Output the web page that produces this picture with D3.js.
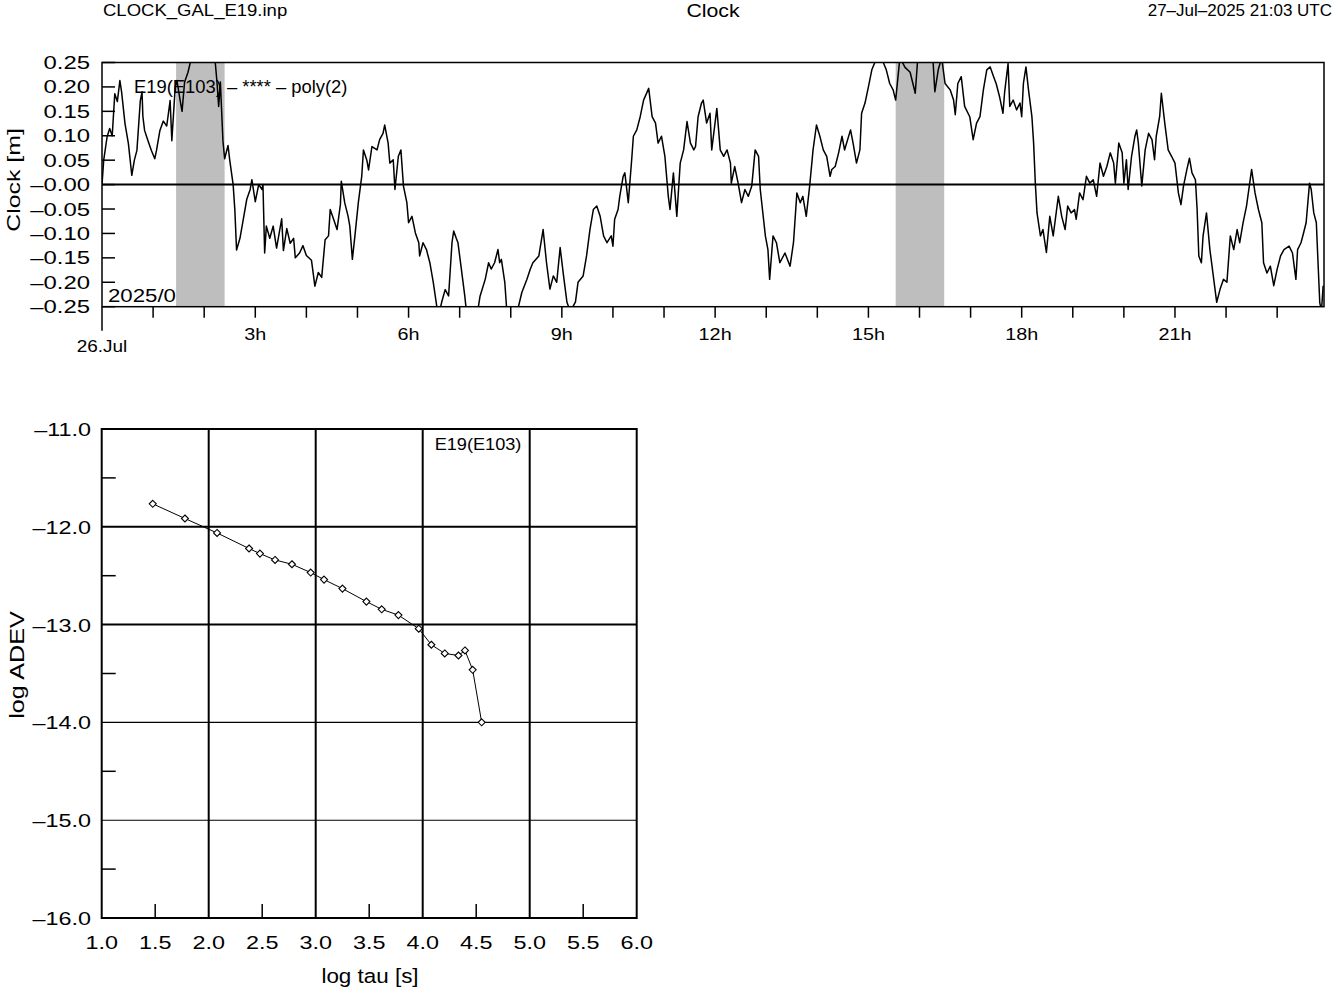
<!DOCTYPE html>
<html><head><meta charset="utf-8">
<script src="https://cdn.jsdelivr.net/npm/d3@7"></script>
<style>body{margin:0;background:#fff}svg{display:block}text{font-family:"Liberation Sans",Arial,sans-serif;fill:#000}</style>
</head><body>
<script>
// ---------- data ----------
const headerLeft = "CLOCK_GAL_E19.inp";
const headerTitle = "Clock";
const headerRight = "27\u2013Jul\u20132025 21:03 UTC";
const clockLegend = "E19(E103) \u2013 **** \u2013 poly(2)";
const clockDateLabel = "2025/0";
const clockYTicks = [-0.25,-0.20,-0.15,-0.10,-0.05,0.00,0.05,0.10,0.15,0.20,0.25];
const clockHourTicks = [0,1,2,3,4,5,6,7,8,9,10,11,12,13,14,15,16,17,18,19,20,21,22,23];
const clockHourLabels = [3,6,9,12,15,18,21];
const clockStartLabel = "26.Jul";
const clockGaps = [[87,144],[932,989]]; // minutes
// [minutes since 00:00, clock residual in m]
const clockPoints = [[0,0.0],[2,0.05],[6,0.098],[9,0.115],[12,0.10],[15,0.186],[18,0.17],[21,0.213],[23,0.19],[27,0.125],[31,0.084],[35,0.019],[38,0.05],[41,0.07],[45,0.172],[47,0.19],[48,0.14],[50,0.111],[54,0.09],[58,0.07],[62,0.053],[64,0.07],[68,0.111],[72,0.13],[76,0.12],[80,0.172],[82,0.09],[86,0.2],[88,0.213],[92,0.17],[94,0.15],[97,0.21],[101,0.23],[105,0.26],[109,0.29],[115,0.31],[121,0.28],[127,0.3],[130,0.27],[133,0.25],[135,0.21],[137,0.16],[139,0.21],[140,0.17],[142,0.09],[144,0.053],[148,0.08],[150,0.05],[154,0.0],[156,-0.052],[158,-0.134],[162,-0.11],[166,-0.07],[170,-0.03],[174,-0.01],[176,0.01],[180,-0.035],[184,0.0],[188,-0.01],[189,0.0],[191,-0.14],[193,-0.085],[197,-0.11],[201,-0.085],[205,-0.13],[211,-0.07],[213,-0.135],[217,-0.09],[221,-0.12],[225,-0.11],[227,-0.15],[232,-0.14],[236,-0.125],[240,-0.145],[246,-0.155],[250,-0.208],[254,-0.18],[258,-0.19],[262,-0.113],[266,-0.105],[268,-0.051],[272,-0.071],[276,-0.092],[280,-0.04],[281,0.007],[285,-0.037],[289,-0.065],[291,-0.085],[294,-0.153],[297,-0.105],[301,-0.037],[305,0.017],[307,0.071],[311,0.05],[313,0.03],[317,0.078],[323,0.071],[326,0.092],[330,0.105],[332,0.122],[336,0.085],[338,0.044],[342,0.051],[344,-0.01],[348,0.058],[351,0.071],[354,-0.003],[358,-0.037],[360,-0.078],[364,-0.065],[368,-0.099],[372,-0.119],[373,-0.146],[377,-0.119],[381,-0.133],[385,-0.16],[389,-0.2],[393,-0.248],[395,-0.27],[399,-0.24],[403,-0.215],[407,-0.228],[411,-0.119],[413,-0.095],[416,-0.11],[418,-0.119],[422,-0.173],[426,-0.228],[428,-0.26],[432,-0.29],[438,-0.28],[442,-0.25],[444,-0.228],[450,-0.194],[454,-0.16],[457,-0.173],[461,-0.16],[465,-0.133],[467,-0.16],[469,-0.153],[473,-0.2],[475,-0.25],[479,-0.28],[485,-0.27],[489,-0.25],[493,-0.221],[499,-0.194],[503,-0.173],[506,-0.16],[513,-0.146],[518,-0.092],[522,-0.16],[526,-0.214],[530,-0.187],[534,-0.2],[538,-0.129],[542,-0.187],[546,-0.241],[550,-0.26],[556,-0.24],[559,-0.2],[565,-0.187],[569,-0.146],[573,-0.092],[577,-0.051],[581,-0.044],[585,-0.065],[589,-0.105],[593,-0.119],[598,-0.105],[600,-0.126],[602,-0.071],[606,-0.051],[608,-0.024],[612,0.017],[614,0.024],[618,-0.037],[622,0.051],[624,0.099],[628,0.112],[632,0.139],[636,0.173],[642,0.197],[646,0.139],[650,0.126],[653,0.085],[657,0.099],[661,0.058],[665,-0.024],[667,-0.051],[671,0.024],[675,-0.065],[679,0.044],[683,0.071],[687,0.129],[691,0.085],[695,0.071],[697,0.078],[700,0.139],[704,0.167],[706,0.173],[710,0.126],[714,0.146],[716,0.071],[722,0.156],[726,0.071],[730,0.058],[734,0.071],[738,0.044],[739,0.003],[743,0.037],[747,0.003],[751,-0.037],[755,-0.01],[759,-0.024],[763,-0.003],[767,0.071],[771,0.058],[773,-0.01],[779,-0.105],[782,-0.133],[784,-0.194],[788,-0.105],[792,-0.119],[796,-0.16],[802,-0.14],[808,-0.167],[812,-0.119],[816,-0.017],[820,-0.037],[823,-0.024],[827,-0.065],[831,-0.003],[835,0.071],[839,0.122],[843,0.099],[847,0.071],[851,0.058],[855,0.017],[857,0.031],[861,0.037],[865,0.065],[869,0.099],[872,0.071],[879,0.112],[882,0.085],[886,0.044],[890,0.071],[892,0.146],[896,0.167],[900,0.2],[904,0.235],[908,0.252],[914,0.252],[917,0.252],[921,0.235],[925,0.207],[929,0.194],[932,0.173],[937,0.26],[943,0.24],[949,0.23],[955,0.187],[958,0.26],[964,0.27],[970,0.26],[976,0.25],[978,0.19],[982,0.235],[986,0.26],[990,0.207],[996,0.194],[1000,0.173],[1002,0.143],[1005,0.207],[1009,0.221],[1013,0.16],[1019,0.139],[1023,0.092],[1027,0.126],[1031,0.139],[1035,0.194],[1039,0.235],[1043,0.241],[1047,0.221],[1050,0.207],[1054,0.18],[1058,0.146],[1060,0.19],[1064,0.248],[1066,0.16],[1070,0.173],[1074,0.153],[1078,0.167],[1080,0.139],[1082,0.207],[1085,0.241],[1088,0.194],[1092,0.139],[1094,0.085],[1096,0.003],[1098,-0.058],[1102,-0.105],[1105,-0.092],[1109,-0.139],[1113,-0.065],[1117,-0.105],[1123,-0.024],[1127,-0.065],[1131,-0.092],[1134,-0.044],[1138,-0.058],[1142,-0.051],[1144,-0.071],[1148,-0.017],[1152,-0.031],[1156,0.017],[1160,0.003],[1164,0.01],[1168,-0.024],[1172,0.044],[1176,0.017],[1180,0.037],[1184,0.065],[1188,0.044],[1190,0.003],[1194,0.085],[1198,0.065],[1200,0.003],[1203,0.051],[1205,-0.01],[1209,0.058],[1213,0.099],[1215,0.112],[1217,0.085],[1221,-0.003],[1225,0.071],[1229,0.105],[1233,0.092],[1236,0.051],[1238,0.099],[1242,0.139],[1244,0.187],[1248,0.126],[1252,0.071],[1256,0.058],[1260,0.044],[1264,-0.017],[1267,-0.041],[1270,-0.003],[1274,0.031],[1277,0.054],[1280,0.024],[1284,0.01],[1286,-0.051],[1288,-0.146],[1291,-0.16],[1293,-0.105],[1297,-0.058],[1301,-0.133],[1305,-0.187],[1309,-0.241],[1313,-0.214],[1317,-0.194],[1321,-0.2],[1325,-0.105],[1329,-0.133],[1333,-0.092],[1336,-0.119],[1340,-0.078],[1344,-0.044],[1350,0.031],[1354,-0.017],[1358,-0.051],[1362,-0.078],[1364,-0.16],[1368,-0.181],[1372,-0.167],[1376,-0.207],[1380,-0.173],[1384,-0.146],[1388,-0.133],[1394,-0.126],[1398,-0.14],[1402,-0.194],[1404,-0.133],[1408,-0.119],[1411,-0.099],[1414,-0.078],[1418,0.003],[1420,-0.01],[1423,-0.058],[1426,-0.078],[1428,-0.16],[1430,-0.241],[1432,-0.26],[1434,-0.207]];

const adevLabel = "E19(E103)";
const adevLogTau = [1.477,1.778,2.078,2.377,2.479,2.620,2.778,2.953,3.078,3.250,3.474,3.617,3.773,3.963,4.081,4.206,4.334,4.395,4.467,4.551];
const adevLogAdev = [-11.765,-11.915,-12.063,-12.222,-12.274,-12.339,-12.383,-12.468,-12.540,-12.632,-12.765,-12.844,-12.903,-13.042,-13.206,-13.295,-13.316,-13.264,-13.462,-13.999];
const adevXTicks = [1.0,1.5,2.0,2.5,3.0,3.5,4.0,4.5,5.0,5.5,6.0];
const adevYTicks = [-16.0,-15.5,-15.0,-14.5,-14.0,-13.5,-13.0,-12.5,-12.0,-11.5,-11.0];

// ---------- helpers ----------
const svg = d3.select("body").append("svg").attr("width",1333).attr("height",989);
function txt(g,x,y,s,o){
  o=o||{};
  return g.append("text")
    .attr("transform",`translate(${x},${y})`+(o.rot?` rotate(${o.rot})`:"")+` scale(${o.sx||1},1)`)
    .attr("font-size",o.size||16).attr("text-anchor",o.anchor||"start").text(s);
}
const fmtClock = v => (v<=0?"\u2013":"") + Math.abs(v).toFixed(2);

// ---------- header ----------
txt(svg,103,16,headerLeft,{size:17,sx:1.09});
txt(svg,713,17,headerTitle,{size:19,anchor:"middle",sx:1.12});
txt(svg,1332,16,headerRight,{size:17,anchor:"end",sx:1.0});

// ---------- top clock plot ----------
const L1=102,R1=1324,T1=62.5,B1=306.7;
const x1 = d3.scaleLinear().domain([0,1435]).range([L1,R1]);
const y1 = d3.scaleLinear().domain([-0.25,0.25]).range([B1,T1]);
const g1 = svg.append("g");
g1.append("clipPath").attr("id","c1").append("rect").attr("x",L1).attr("y",T1).attr("width",R1-L1).attr("height",B1-T1);

txt(g1,108,302,clockDateLabel,{size:19,sx:1.17});

g1.selectAll("rect.gap").data(clockGaps).join("rect").attr("class","gap")
  .attr("x",d=>x1(d[0])).attr("width",d=>x1(d[1])-x1(d[0]))
  .attr("y",T1).attr("height",B1-T1).attr("fill","#bebebe");

txt(g1,134,92.5,clockLegend,{size:17.5,sx:1.05});

g1.append("path").datum(clockPoints).attr("clip-path","url(#c1)")
  .attr("d",d3.line().x(d=>x1(d[0])).y(d=>y1(d[1])))
  .attr("fill","none").attr("stroke","#000").attr("stroke-width",1.5).attr("stroke-linejoin","round");

// zero line
g1.append("line").attr("x1",L1).attr("x2",R1).attr("y1",y1(0)).attr("y2",y1(0)).attr("stroke","#000").attr("stroke-width",2);
// frame
g1.append("rect").attr("x",L1).attr("y",T1).attr("width",R1-L1).attr("height",B1-T1).attr("fill","none").attr("stroke","#000").attr("stroke-width",1.5);
// y ticks (inward) and labels
g1.selectAll("line.yt").data(clockYTicks).join("line").attr("class","yt")
  .attr("x1",L1).attr("x2",L1+13).attr("y1",d=>y1(d)).attr("y2",d=>y1(d)).attr("stroke","#000").attr("stroke-width",1.5);
clockYTicks.forEach(v=>txt(g1,90,y1(v)+6.5,fmtClock(v),{size:18,anchor:"end",sx:1.33}));
txt(g1,20,180,"Clock [m]",{size:19,anchor:"middle",rot:-90,sx:1.31});
// x ticks (outward)
g1.selectAll("line.xt").data(clockHourTicks).join("line").attr("class","xt")
  .attr("x1",d=>x1(d*60)).attr("x2",d=>x1(d*60)).attr("y1",B1).attr("y2",d=>d===0?B1+24:B1+11)
  .attr("stroke","#000").attr("stroke-width",1.5);
clockHourLabels.forEach(h=>txt(g1,x1(h*60),340,h+"h",{size:16.5,anchor:"middle",sx:1.2}));
txt(g1,x1(0),352,clockStartLabel,{size:16.5,anchor:"middle",sx:1.15});

// ---------- bottom ADEV plot ----------
const L2=101.7,R2=636.7,T2=429,B2=918;
const x2 = d3.scaleLinear().domain([1,6]).range([L2,R2]);
const y2 = d3.scaleLinear().domain([-16,-11]).range([B2,T2]);
const g2 = svg.append("g");
const intX = adevXTicks.filter(v=>Number.isInteger(v) && v>1 && v<6);
const intY = adevYTicks.filter(v=>Number.isInteger(v) && v>-16 && v<-11);
const halfX = adevXTicks.filter(v=>!Number.isInteger(v));
const halfY = adevYTicks.filter(v=>!Number.isInteger(v));
g2.selectAll("line.gx").data(intX).join("line").attr("x1",d=>x2(d)).attr("x2",d=>x2(d)).attr("y1",T2).attr("y2",B2).attr("stroke","#000").attr("stroke-width",2);
g2.selectAll("line.gy").data(intY).join("line").attr("x1",L2).attr("x2",R2).attr("y1",d=>y2(d)).attr("y2",d=>y2(d)).attr("stroke","#000").attr("stroke-width",d=>d<=-14?1.1:2);
g2.selectAll("line.hx").data(halfX).join("line").attr("x1",d=>x2(d)).attr("x2",d=>x2(d)).attr("y1",B2).attr("y2",B2-14).attr("stroke","#000").attr("stroke-width",1.5);
g2.selectAll("line.hy").data(halfY).join("line").attr("x1",L2).attr("x2",L2+14).attr("y1",d=>y2(d)).attr("y2",d=>y2(d)).attr("stroke","#000").attr("stroke-width",1.5);
g2.append("rect").attr("x",L2).attr("y",T2).attr("width",R2-L2).attr("height",B2-T2).attr("fill","none").attr("stroke","#000").attr("stroke-width",2);

const adev = adevLogTau.map((t,i)=>[t,adevLogAdev[i]]);
g2.append("path").datum(adev).attr("d",d3.line().x(d=>x2(d[0])).y(d=>y2(d[1]))).attr("fill","none").attr("stroke","#000").attr("stroke-width",1);
g2.selectAll("path.mk").data(adev).join("path").attr("class","mk")
  .attr("transform",d=>`translate(${x2(d[0])},${y2(d[1])})`)
  .attr("d","M0,-3.5L3.5,0L0,3.5L-3.5,0Z").attr("fill","#fff").attr("stroke","#000").attr("stroke-width",1.1);

txt(g2,478,450,adevLabel,{size:16.5,anchor:"middle",sx:1.1});
adevYTicks.filter(Number.isInteger).forEach(v=>txt(g2,91,y2(v)+7,"\u2013"+Math.abs(v).toFixed(1),{size:18,anchor:"end",sx:1.3}));
adevXTicks.forEach(v=>txt(g2,x2(v),949,v.toFixed(1),{size:18,anchor:"middle",sx:1.3}));
txt(g2,370,983,"log tau [s]",{size:19.5,anchor:"middle",sx:1.15});
txt(g2,24,665,"log ADEV",{size:19.5,anchor:"middle",rot:-90,sx:1.29});
</script>
</body></html>
